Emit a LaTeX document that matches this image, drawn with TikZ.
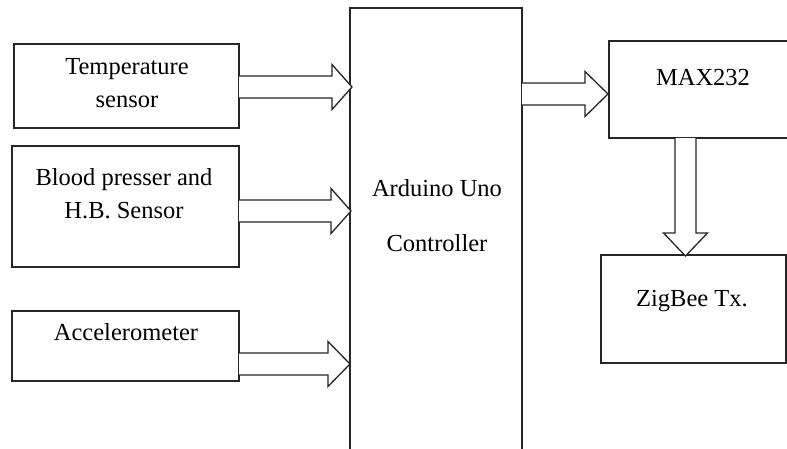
\documentclass[tikz,border=0pt]{standalone}
\usepackage{fontspec}
\newfontfamily\timesfont{LiberationSerif-Regular}[Extension=.ttf]
\usetikzlibrary{calc}
\tikzset{
  blk/.style={draw=black!85, line width=1.3pt, inner sep=0pt},
  lbl/.style={anchor=base, inner sep=0pt, font=\timesfont\fontsize{24.5}{33}\selectfont},
  fat/.style={draw=black!85, line width=1.3pt, fill=white, line join=miter},
}
% horizontal fat arrow: #1 start point, #2 tip point (same y as start), #3 head length
\newcommand{\harrowfat}[3]{%
  \draw[fat] let \p1=(#1), \p2=(#2) in
    (\x1,\y1+11pt) -- (\x2-#3,\y1+11pt) -- (\x2-#3,\y1+22.5pt) -- (\x2,\y1)
    -- (\x2-#3,\y1-22.5pt) -- (\x2-#3,\y1-11pt) -- (\x1,\y1-11pt);}
\begin{document}
\begin{tikzpicture}[x=1pt,y=-1pt]
\clip (0,0) rectangle (787,448);
\fill[white] (0,0) rectangle (787,448);
% boxes
\draw[blk] (14,44) rectangle (239,128);
\draw[blk] (12,146) rectangle (239,267);
\draw[blk] (12,311) rectangle (239,381);
\draw[blk] (350,8) rectangle (522,470);
\draw[blk] (609,41) rectangle (792,138);
\draw[blk] (601,255) rectangle (786,363);
% named anchors
\coordinate (tempE) at (239,87);
\coordinate (bpE) at (239,211);
\coordinate (accE) at (239,364);
\coordinate (ardW1) at (352,87);
\coordinate (ardW2) at (351,211);
\coordinate (ardW3) at (350,364);
\coordinate (ardE) at (522,94);
\coordinate (maxW) at (608,94);
% labels
\node[lbl] (tempA) at (127,74) {Temperature};
\node[lbl] (tempB) at (127,107) {sensor};
\node[lbl] (bpA) at (124,185) {Blood presser and};
\node[lbl] (bpB) at (124,218) {H.B. Sensor};
\node[lbl] (acc) at (126,340) {Accelerometer};
\node[lbl] (ardA) at (437,196) {Arduino Uno};
\node[lbl] (ardB) at (437,251) {Controller};
\node[lbl] (max) at (703,85) {MAX232};
\node[lbl] (zig) at (692,306) {ZigBee Tx.};
% arrows
\harrowfat{tempE}{ardW1}{20pt}
\harrowfat{bpE}{ardW2}{20pt}
\harrowfat{accE}{ardW3}{22pt}
\harrowfat{ardE}{maxW}{23pt}
% down arrow from MAX232 to ZigBee
\coordinate (maxS) at (685.5,138);
\coordinate (zigN) at (685.5,256);
\draw[fat] let \p1=(maxS), \p2=(zigN) in
  (\x1-10.5pt,\y1) -- (\x1-10.5pt,\y2+23pt) -- (\x1-22pt,\y2+23pt) -- (\x2,\y2)
  -- (\x1+22pt,\y2+23pt) -- (\x1+10.5pt,\y2+23pt) -- (\x1+10.5pt,\y1);
\end{tikzpicture}
\end{document}
